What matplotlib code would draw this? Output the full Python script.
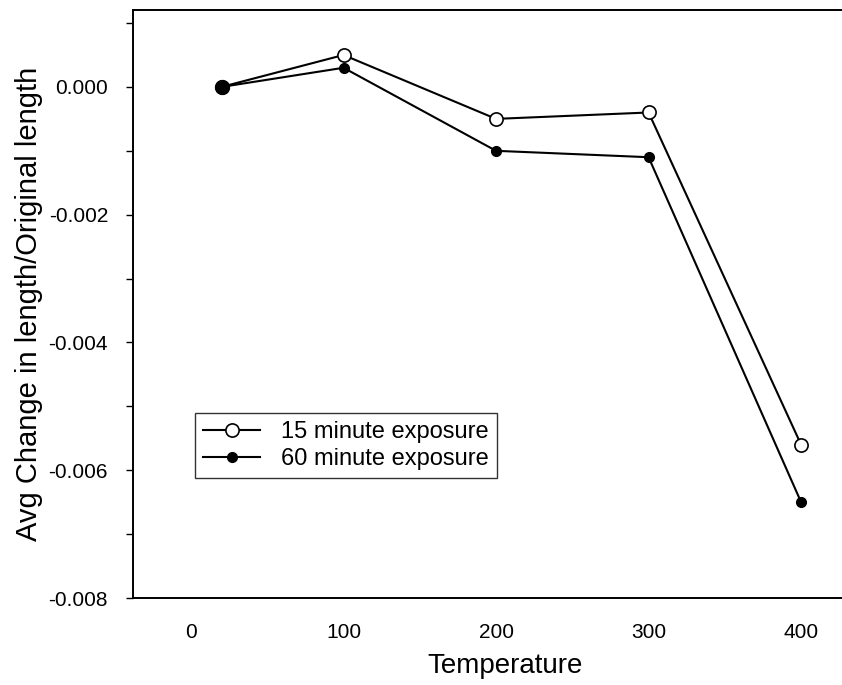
import numpy as np
import matplotlib.pyplot as plt

plt.rcParams['font.family'] = ['Liberation Sans', 'DejaVu Sans']

temps = [20, 100, 200, 300, 400]
exp15 = [0.0, 0.0005, -0.0005, -0.0004, -0.0056]
exp60 = [0.0, 0.0003, -0.0010, -0.0011, -0.0065]

xticks = [0, 100, 200, 300, 400]
yticks = [0.000, -0.002, -0.004, -0.006, -0.008]

fig = plt.figure(figsize=(8.42, 6.85), dpi=100)
# the scanned frame runs off the right edge of the page
ax = fig.add_axes([0.158, 0.127, 0.884, 0.858])

ax.plot(temps, exp15, color='black', lw=1.5, marker='o', ms=9.5,
        mfc='white', mec='black', mew=1.2, label='15 minute exposure', zorder=3)
ax.plot(temps, exp60, color='black', lw=1.5, marker='o', ms=7,
        mfc='black', mec='black', label='60 minute exposure', zorder=2)
# both series start at the same point, drawn as a heavy dot
ax.plot(temps[:1], exp60[:1], 'o', color='black', ms=10, zorder=4)

ax.set_xlim(-38, 450)
ax.set_ylim(-0.008, 0.0012)
ax.set_xticks(xticks)
ax.set_xticklabels([str(t) for t in xticks])
ax.set_yticks(yticks)
ax.set_yticklabels(['%.3f' % v for v in yticks])
ax.set_yticks(np.arange(-0.007, 0.0011, 0.002), minor=True)

ax.tick_params(axis='x', length=0, labelsize=15, pad=18)
ax.tick_params(axis='y', which='both', direction='out', length=5, width=1,
               labelsize=15, pad=13)

ax.spines['right'].set_visible(False)
for s in ['left', 'bottom', 'top']:
    ax.spines[s].set_linewidth(1.4)

ax.set_xlabel('Temperature', fontsize=20, labelpad=8)
ax.set_ylabel('Avg Change in length/Original length', fontsize=21, labelpad=4)

leg = ax.legend(loc='upper left', bbox_to_anchor=(0.2316, 0.397),
                bbox_transform=fig.transFigure, fontsize=17,
                frameon=True, fancybox=False, edgecolor='black',
                handlelength=2.4, handletextpad=0.9, borderpad=0.35,
                labelspacing=0.2, borderaxespad=0)
leg.get_frame().set_linewidth(1.0)

fig.savefig('out.png', dpi=100)
